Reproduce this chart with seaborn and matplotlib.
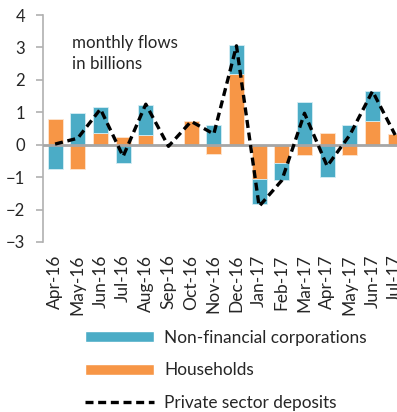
import numpy as np
import pandas as pd
import matplotlib
matplotlib.use("Agg")
import matplotlib.pyplot as plt
import seaborn as sns
from matplotlib.patches import Patch
from matplotlib.lines import Line2D

months = ["Apr-16", "May-16", "Jun-16", "Jul-16", "Aug-16", "Sep-16", "Oct-16", "Nov-16",
          "Dec-16", "Jan-17", "Feb-17", "Mar-17", "Apr-17", "May-17", "Jun-17", "Jul-17"]
households = [0.80, -0.76, 0.37, 0.25, 0.29, -0.05, 0.74, -0.28,
              2.19, -1.06, -0.57, -0.33, 0.36, -0.32, 0.72, 0.34]
corporations = [-0.74, 0.99, 0.78, -0.57, 0.95, 0.02, 0.0, 0.61,
                 0.89, -0.78, -0.52, 1.32, -1.00, 0.61, 0.95, -0.05]
private_deposits = [0.02, 0.20, 1.10, -0.36, 1.25, -0.05, 0.72, 0.33,
                    3.05, -1.90, -1.10, 0.97, -0.66, 0.30, 1.65, 0.30]

C_NFC = "#4BACC6"
C_HH = "#F79646"
FONT = ["Lato", "DejaVu Sans"]

sns.set_style("white")
plt.rcParams["font.family"] = FONT

df = pd.DataFrame({"month": months, "hh": households, "nfc": corporations,
                   "total": private_deposits})
# corporations stack on top of households when both share a sign, otherwise start at zero
df["nfc_base"] = np.where(np.sign(df["nfc"]) == np.sign(df["hh"]), df["hh"], 0.0)

fig = plt.figure(figsize=(3.97, 4.12), dpi=100)
ax = fig.add_axes([43.3 / 397, 1 - 242 / 412, (397 - 43.3) / 397, (242 - 15) / 412])

sns.barplot(data=df, x="month", y="hh", order=months, color=C_HH, width=0.66,
            errorbar=None, saturation=1, edgecolor="#fde5d0", linewidth=0.6, ax=ax)
sns.barplot(data=df, x="month", y="nfc", order=months, color=C_NFC, width=0.66,
            errorbar=None, saturation=1, bottom=df["nfc_base"].values,
            edgecolor="#d6eef4", linewidth=0.6, ax=ax)
sns.pointplot(data=df, x="month", y="total", order=months, color="black",
              markers="", linestyles=(0, (2.4, 1.4)), errorbar=None, ax=ax)
for ln in ax.lines:
    ln.set_linewidth(2.4)
    ln.set_zorder(5)

ax.axhline(0, color="#a6a6a6", lw=2.0, zorder=4)

ax.set_xlim(-0.52, 15.08)
ax.set_ylim(-3, 4)
ax.set_yticks(range(-3, 5))
ax.set_xlabel("")
ax.set_ylabel("")
for s in ["top", "right", "bottom"]:
    ax.spines[s].set_visible(False)
ax.spines["left"].set_color("#b0b0b0")
ax.spines["left"].set_linewidth(1.2)
ax.tick_params(axis="y", which="both", direction="out", length=5, width=1.2,
               color="#b0b0b0", labelsize=12, pad=8, left=True)
ax.tick_params(axis="x", length=0, labelsize=12.5, pad=9)
ax.set_xticks(range(len(months)))
ax.set_xticklabels(months, rotation=90)
ax.xaxis.set_ticks_position("bottom")

ax.text(0.75, 2.82, "monthly flows\nin billions", fontsize=12.2, linespacing=1.4,
        va="center", ha="left")

handles = [Patch(facecolor=C_NFC, label="Non-financial corporations"),
           Patch(facecolor=C_HH, label="Households"),
           Line2D([0], [0], color="black", lw=2.4, linestyle=(0, (2.4, 1.4)),
                  label="Private sector deposits")]
fig.legend(handles=handles, loc="upper left", bbox_to_anchor=(85 / 397, 1 - 330 / 412),
           frameon=False, fontsize=12.4, handlelength=4.0, handleheight=0.6,
           labelspacing=0.95, handletextpad=0.6, borderaxespad=0, borderpad=0)

fig.savefig("out.png", dpi=100)
